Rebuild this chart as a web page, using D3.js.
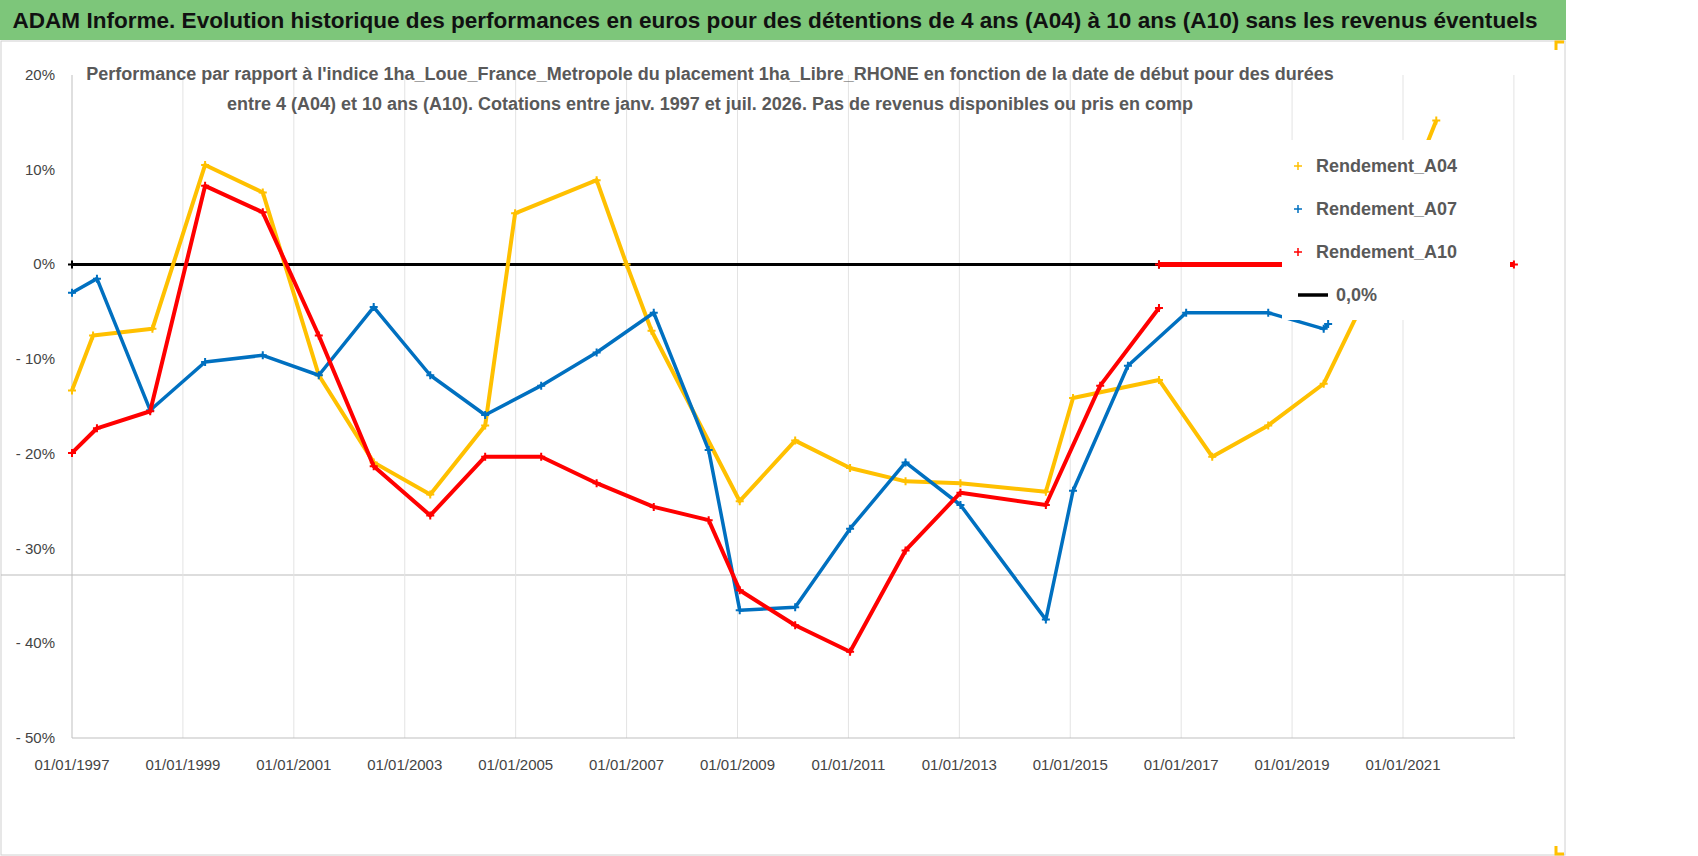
<!DOCTYPE html>
<html><head><meta charset="utf-8">
<script src="https://cdn.jsdelivr.net/npm/d3@7"></script>
<style>
body{margin:0;background:#fff;font-family:"Liberation Sans Narrow","Liberation Sans",Arial,sans-serif;}
</style></head>
<body><svg id="c" width="1698" height="856"></svg>
<script>
// data (year as decimal, value in %)
const a04 = [[1997.0,-13.3],[1997.38,-7.5],[1998.45,-6.8],[1999.4,10.5],[2000.44,7.6],[2001.45,-11.7],[2002.44,-20.9],[2003.46,-24.3],[2004.45,-17],[2004.99,5.4],[2006.46,8.9],[2007.0,0],[2007.45,-7],[2009.04,-25],[2010.04,-18.6],[2011.03,-21.5],[2012.03,-22.9],[2013.02,-23.1],[2014.56,-24],[2015.05,-14.1],[2016.6,-12.2],[2017.56,-20.3],[2018.57,-17],[2019.57,-12.6],[2020.3,-3.8],[2021.6,15.2]];
const a07 = [[1997.0,-3],[1997.45,-1.5],[1998.41,-15.4],[1999.4,-10.3],[2000.44,-9.6],[2001.45,-11.7],[2002.44,-4.5],[2003.46,-11.7],[2004.45,-15.9],[2005.46,-12.8],[2006.46,-9.3],[2007.49,-5.1],[2008.48,-19.6],[2009.04,-36.5],[2010.04,-36.2],[2011.03,-27.9],[2012.03,-20.9],[2013.02,-25.4],[2014.56,-37.5],[2015.05,-23.9],[2016.04,-10.7],[2017.09,-5.1],[2018.57,-5.1],[2019.57,-6.8],[2019.65,-6.3]];
const a10 = [[1997.0,-19.9],[1997.45,-17.3],[1998.41,-15.5],[1999.4,8.3],[2000.44,5.5],[2001.45,-7.5],[2002.44,-21.3],[2003.46,-26.5],[2004.45,-20.3],[2005.46,-20.3],[2006.46,-23.1],[2007.49,-25.6],[2008.48,-27],[2009.04,-34.4],[2010.04,-38.1],[2011.03,-40.9],[2012.03,-30.2],[2013.02,-24.1],[2014.56,-25.4],[2015.54,-12.8],[2016.6,-4.6]];
const a10zero = [[2016.6,0],[2023.0,0]];
const zeroLine = [[1997.0,0],[2016.6,0]];
const yTicks = [20,10,0,-10,-20,-30,-40,-50];
const xTicks = [1997,1999,2001,2003,2005,2007,2009,2011,2013,2015,2017,2019,2021];
const legend = [["Rendement_A04","#ffc000"],["Rendement_A07","#0070c0"],["Rendement_A10","#ff0000"],["0,0%","#000"]];

const svg = d3.select("#c");
const x = d3.scaleLinear().domain([1997,2021]).range([72,1403]);
const y = d3.scaleLinear().domain([-50,20]).range([738,75]);

svg.append("rect").attr("x",0).attr("y",0).attr("width",1566).attr("height",40).attr("fill","#7dc67a");
svg.append("text").attr("x",775).attr("y",28).attr("text-anchor","middle")
  .attr("font-size",22).attr("font-weight","bold").attr("fill","#111")
  .attr("textLength",1525).attr("lengthAdjust","spacingAndGlyphs")
  .text("ADAM Informe. Evolution historique des performances en euros pour des détentions de 4 ans (A04) à 10 ans (A10) sans les revenus éventuels");
svg.append("rect").attr("x",1).attr("y",41).attr("width",1564).attr("height",814).attr("fill","none").attr("stroke","#d0d0d0");
svg.append("line").attr("x1",1).attr("x2",1565).attr("y1",575).attr("y2",575).attr("stroke","#bbb");

// grid
svg.append("g").selectAll("line").data(xTicks.slice(1)).join("line")
  .attr("x1",d=>x(d)).attr("x2",d=>x(d)).attr("y1",y(20)).attr("y2",y(-50)).attr("stroke","#e3e3e3");
svg.append("line").attr("x1",x(2023)).attr("x2",x(2023)).attr("y1",y(20)).attr("y2",y(-50)).attr("stroke","#e3e3e3");
svg.append("line").attr("x1",72).attr("x2",72).attr("y1",y(20)).attr("y2",y(-50)).attr("stroke","#bfbfbf");
svg.append("line").attr("x1",72).attr("x2",1515).attr("y1",y(-50)).attr("y2",y(-50)).attr("stroke","#bfbfbf");

svg.append("g").selectAll("text").data(yTicks).join("text")
  .attr("x",55).attr("y",d=>y(d)+5).attr("text-anchor","end").attr("font-size",15).attr("fill","#444")
  .text(d=>d<0?"- "+(-d)+"%":d+"%");
svg.append("g").selectAll("text").data(xTicks).join("text")
  .attr("x",d=>x(d)).attr("y",770).attr("text-anchor","middle").attr("font-size",15).attr("fill","#444")
  .text(d=>"01/01/"+d);

svg.append("text").attr("x",710).attr("y",80).attr("text-anchor","middle").attr("font-size",18).attr("font-weight","bold").attr("fill","#595959")
  .text("Performance par rapport à l'indice 1ha_Loue_France_Metropole  du placement 1ha_Libre_RHONE en fonction de la date de début pour des durées");
svg.append("text").attr("x",710).attr("y",110).attr("text-anchor","middle").attr("font-size",18).attr("font-weight","bold").attr("fill","#595959")
  .text("entre 4 (A04) et 10 ans (A10). Cotations entre janv. 1997 et juil. 2026. Pas de revenus disponibles ou pris en comp");

const line = d3.line().x(d=>x(d[0])).y(d=>y(d[1]));
function draw(data,color,w){
  svg.append("path").datum(data).attr("d",line).attr("fill","none").attr("stroke",color).attr("stroke-width",w).attr("stroke-linejoin","round");
  svg.append("g").selectAll("path").data(data).join("path")
    .attr("d",d=>`M${x(d[0])-4},${y(d[1])}h8M${x(d[0])},${y(d[1])-4}v8`).attr("stroke",color).attr("stroke-width",2);
}
draw(zeroLine,"#000",3);
draw(a10zero,"#ff0000",5);
draw(a04,"#ffc000",4);
draw(a07,"#0070c0",3.5);
draw(a10,"#ff0000",4);

// legend
svg.append("rect").attr("x",1282).attr("y",140).attr("width",228).attr("height",180).attr("fill","#fff");
const lg = svg.append("g").selectAll("g").data(legend).join("g")
  .attr("transform",(d,i)=>`translate(1298,${166+i*43})`);
lg.append("path").attr("d",(d,i)=>i<3?"M-4,0h8M0,-4v8":"M0,0h30").attr("stroke",d=>d[1]).attr("stroke-width",(d,i)=>i<3?1.5:3.5);
lg.append("text").attr("x",(d,i)=>i<3?18:38).attr("y",6).attr("font-size",18).attr("font-weight","bold").attr("fill","#595959").text(d=>d[0]);

// right edge decorations
svg.append("path").attr("d","M1556,50v-8h8M1556,846v8h8").attr("fill","none").attr("stroke","#ffc000").attr("stroke-width",3);
</script></body></html>
